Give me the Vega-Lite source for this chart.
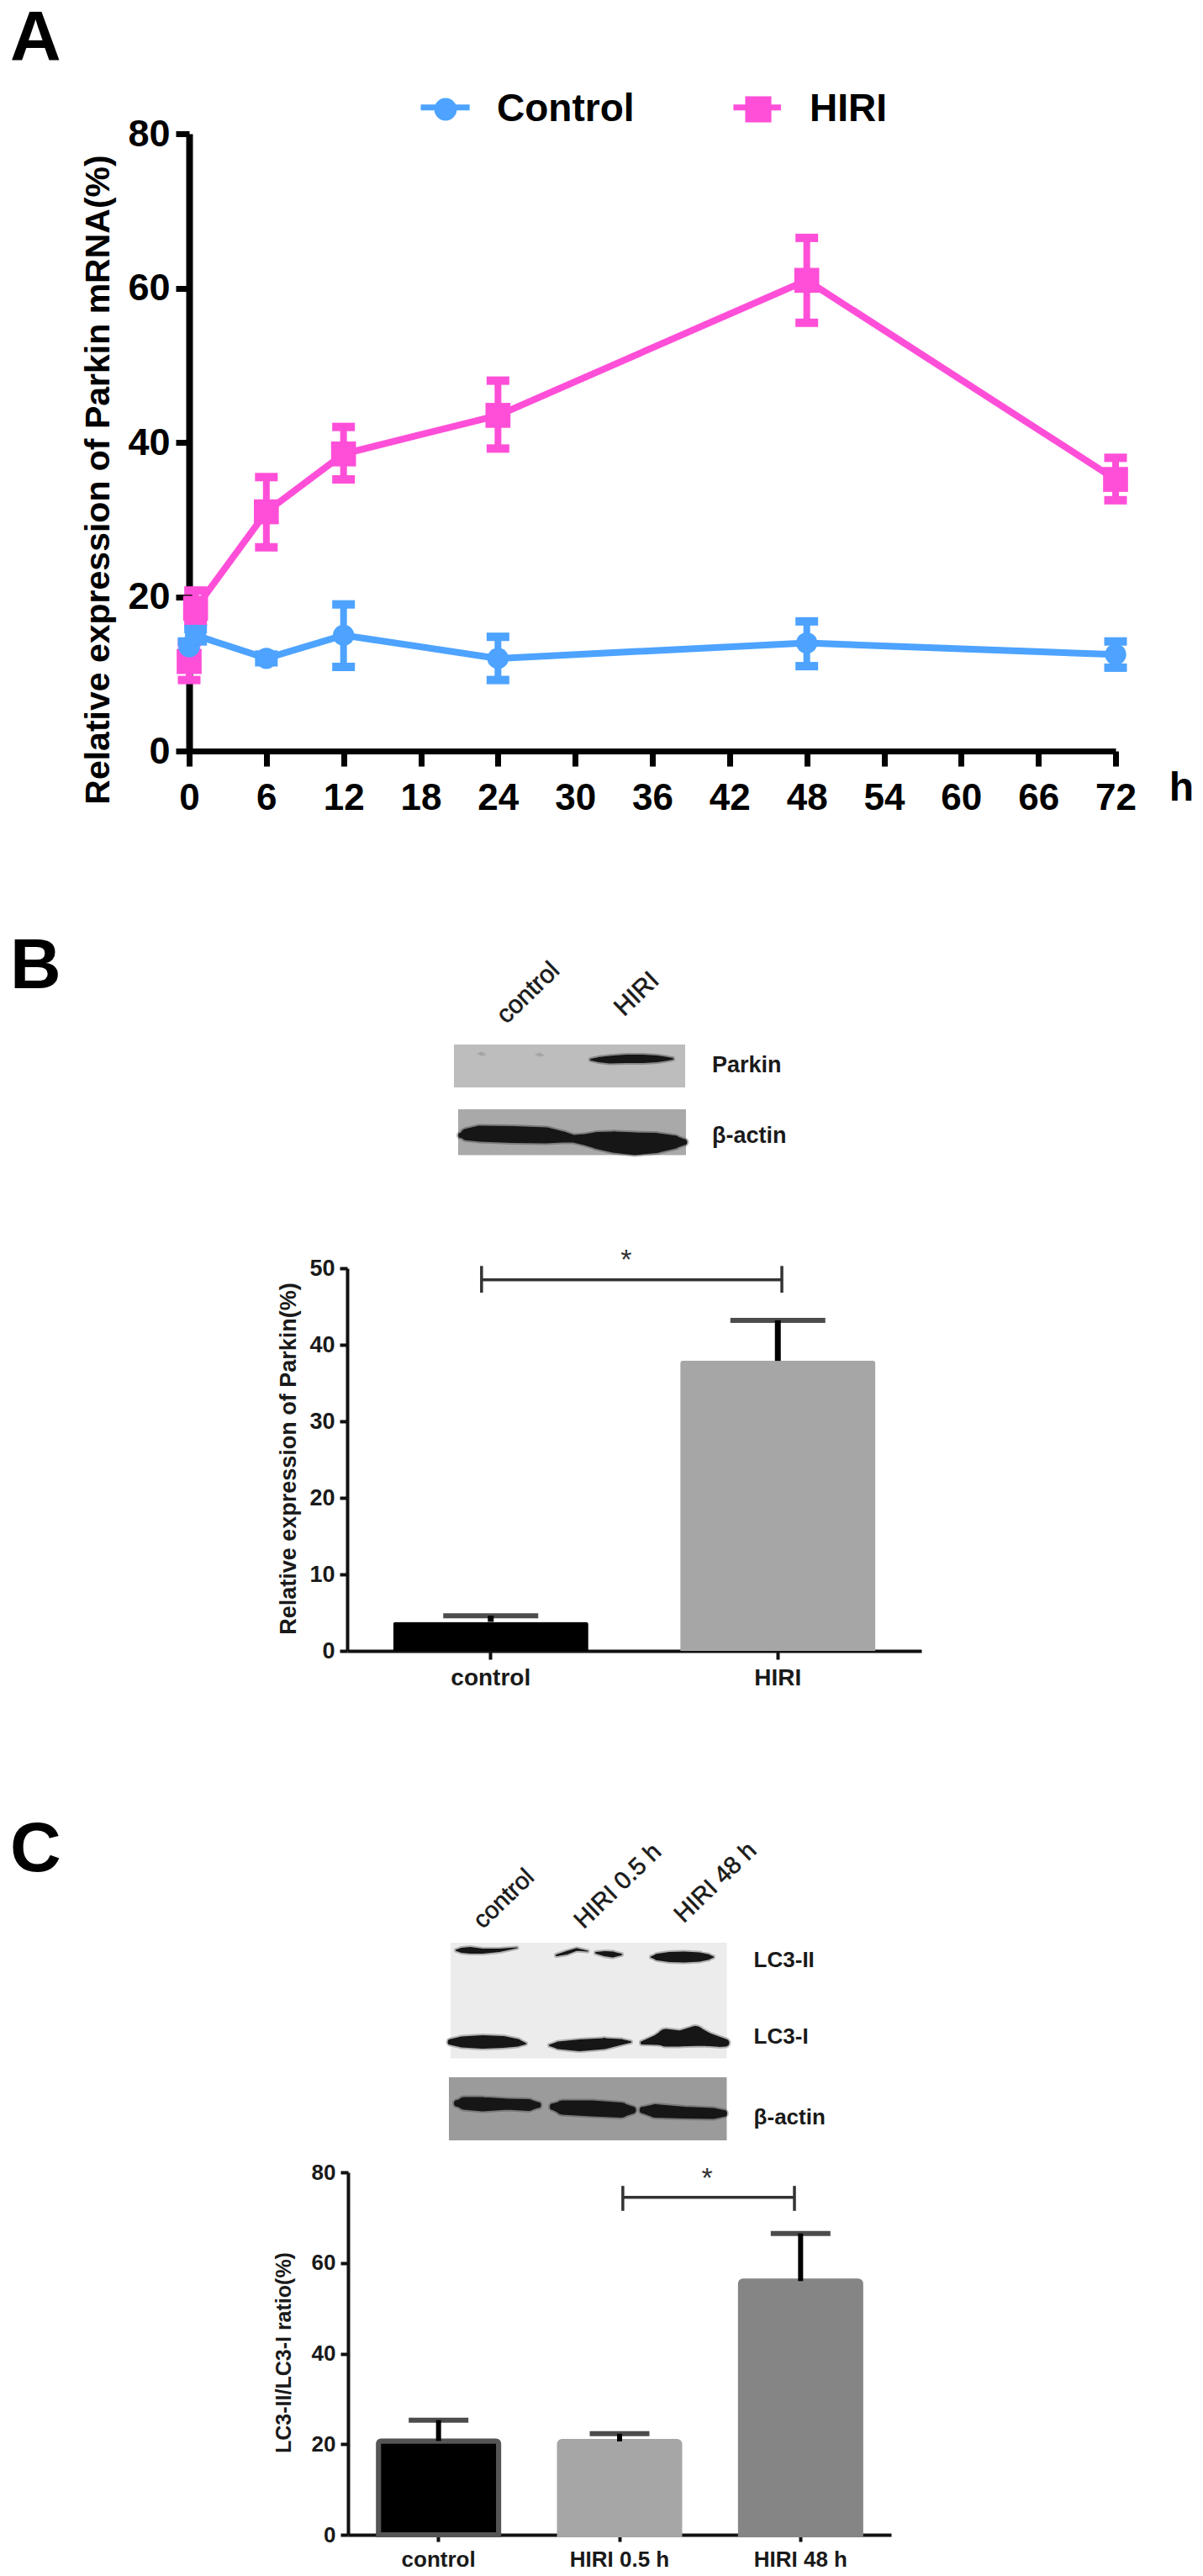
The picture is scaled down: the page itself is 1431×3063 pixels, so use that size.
{"$schema":"https://vega.github.io/schema/vega-lite/v6.json","background":"white","padding":{"left":0,"top":0,"right":0,"bottom":49},"bounds":"flush","spacing":0,"resolve":{"scale":{"color":"independent","size":"independent","shape":"independent","stroke":"independent"},"legend":{"color":"independent"}},"config":{"view":{"stroke":null},"font":"Liberation Sans"},
"datasets":{
"mrna":[
{"series":"HIRI","hour":0,"mean":11.6,"lo":9.2,"hi":14},{"series":"HIRI","hour":0.5,"mean":18.5,"lo":16.6,"hi":20.8},{"series":"HIRI","hour":6,"mean":31,"lo":26.4,"hi":35.5},{"series":"HIRI","hour":12,"mean":38.5,"lo":35.2,"hi":42},{"series":"HIRI","hour":24,"mean":43.5,"lo":39.2,"hi":48},{"series":"HIRI","hour":48,"mean":61,"lo":55.5,"hi":66.5},{"series":"HIRI","hour":72,"mean":35.2,"lo":32.5,"hi":38},
{"series":"Control","hour":0,"mean":13.5,"lo":12.8,"hi":14.2},{"series":"Control","hour":0.5,"mean":15,"lo":14.2,"hi":15.8},{"series":"Control","hour":6,"mean":12,"lo":11.5,"hi":12.5},{"series":"Control","hour":12,"mean":15,"lo":10.9,"hi":19},{"series":"Control","hour":24,"mean":12,"lo":9.2,"hi":14.8},{"series":"Control","hour":48,"mean":14,"lo":11,"hi":16.8},{"series":"Control","hour":72,"mean":12.5,"lo":10.8,"hi":14.2}],
"legendKeys":[{"series":"Control","x":18,"x2":21.8,"y":83.4},{"series":"HIRI","x":42.3,"x2":46,"y":83.4}],
"barsB":[{"group":"control","mean":3.8,"hi":4.6},{"group":"HIRI","mean":37.9,"hi":43.2}],
"barsC":[{"group":"control","mean":20.7,"hi":25.3},{"group":"HIRI 0.5 h","mean":20.6,"hi":22.3},{"group":"HIRI 48 h","mean":56,"hi":66.5}],
"panelsB":[{"kind":"upper","x":0,"x2":275,"y":0,"y2":51},{"kind":"lower","x":5,"x2":276,"y":77,"y2":131.5}],
"bandsB":[
{"band":"p","kind":"strong","x":163,"y":18,"t":2},{"band":"p","kind":"strong","x":172,"y":18,"t":6},{"band":"p","kind":"strong","x":185,"y":18,"t":9},{"band":"p","kind":"strong","x":205,"y":17,"t":10},{"band":"p","kind":"strong","x":225,"y":17,"t":10},{"band":"p","kind":"strong","x":242,"y":17,"t":8},{"band":"p","kind":"strong","x":252,"y":17,"t":5},{"band":"p","kind":"strong","x":260,"y":17,"t":2},
{"band":"f1","kind":"faint","x":28,"y":11,"t":1},{"band":"f1","kind":"faint","x":33,"y":11,"t":5},{"band":"f1","kind":"faint","x":38,"y":12,"t":1},
{"band":"f2","kind":"faint","x":97,"y":12,"t":1},{"band":"f2","kind":"faint","x":102,"y":12,"t":5},{"band":"f2","kind":"faint","x":107,"y":13,"t":1},
{"band":"a","kind":"strong","x":8,"y":108,"t":6},{"band":"a","kind":"strong","x":15,"y":107,"t":14},{"band":"a","kind":"strong","x":30,"y":106,"t":19},{"band":"a","kind":"strong","x":70,"y":107,"t":20},{"band":"a","kind":"strong","x":110,"y":108,"t":19},{"band":"a","kind":"strong","x":130,"y":110,"t":13},{"band":"a","kind":"strong","x":142,"y":112,"t":9},{"band":"a","kind":"strong","x":155,"y":113,"t":13},{"band":"a","kind":"strong","x":170,"y":114,"t":20},{"band":"a","kind":"strong","x":190,"y":116,"t":25},{"band":"a","kind":"strong","x":215,"y":118,"t":27},{"band":"a","kind":"strong","x":240,"y":117,"t":24},{"band":"a","kind":"strong","x":262,"y":116,"t":16},{"band":"a","kind":"strong","x":274,"y":116,"t":7}],
"sideB":[{"label":"Parkin","x":307,"y":24.5},{"label":"β-actin","x":307,"y":109}],
"laneB":[{"label":"control","x":56,"y":-30},{"label":"HIRI","x":196,"y":-39}],
"panelsC":[{"kind":"upper","x":2,"x2":330.5,"y":0,"y2":137.6},{"kind":"lower","x":0,"x2":330.5,"y":160,"y2":235}],
"bandsC":[
{"band":"c2","x":9,"y":9,"t":2},{"band":"c2","x":15,"y":9,"t":6},{"band":"c2","x":25,"y":9,"t":8},{"band":"c2","x":40,"y":10,"t":6},{"band":"c2","x":60,"y":9,"t":4},{"band":"c2","x":81,"y":6,"t":1},
{"band":"h2","x":128,"y":15,"t":2},{"band":"h2","x":140,"y":12,"t":4},{"band":"h2","x":152,"y":8,"t":3},{"band":"h2","x":165,"y":10,"t":1},
{"band":"h2b","x":175,"y":12,"t":2},{"band":"h2b","x":185,"y":13,"t":6},{"band":"h2b","x":195,"y":14,"t":7},{"band":"h2b","x":205,"y":14,"t":2},
{"band":"l2","x":241,"y":17,"t":2},{"band":"l2","x":248,"y":17,"t":8},{"band":"l2","x":262,"y":17,"t":12},{"band":"l2","x":280,"y":17,"t":13},{"band":"l2","x":298,"y":17,"t":11},{"band":"l2","x":308,"y":17,"t":7},{"band":"l2","x":314,"y":17,"t":2},
{"band":"c1","x":2,"y":118,"t":7},{"band":"c1","x":15,"y":118,"t":13},{"band":"c1","x":40,"y":118,"t":16},{"band":"c1","x":65,"y":118,"t":14},{"band":"c1","x":82,"y":119,"t":9},{"band":"c1","x":91,"y":120,"t":2},
{"band":"h1","x":120,"y":122,"t":2},{"band":"h1","x":130,"y":122,"t":9},{"band":"h1","x":155,"y":122,"t":14},{"band":"h1","x":185,"y":120,"t":13},{"band":"h1","x":205,"y":118,"t":7},{"band":"h1","x":216,"y":118,"t":2},
{"band":"l1","x":230,"y":119,"t":4},{"band":"l1","x":245,"y":116,"t":11},{"band":"l1","x":258,"y":113,"t":21},{"band":"l1","x":275,"y":114,"t":19},{"band":"l1","x":293,"y":111,"t":24},{"band":"l1","x":308,"y":115,"t":16},{"band":"l1","x":322,"y":118,"t":12},{"band":"l1","x":329,"y":119,"t":9},
{"band":"ca","x":10,"y":191,"t":8},{"band":"ca","x":18,"y":191,"t":15},{"band":"ca","x":40,"y":192,"t":17},{"band":"ca","x":70,"y":192,"t":13},{"band":"ca","x":95,"y":193,"t":14},{"band":"ca","x":106,"y":193,"t":7},
{"band":"ha","x":124,"y":195,"t":8},{"band":"ha","x":135,"y":196,"t":17},{"band":"ha","x":170,"y":197,"t":19},{"band":"ha","x":205,"y":199,"t":18},{"band":"ha","x":218,"y":199,"t":9},
{"band":"la","x":231,"y":199,"t":8},{"band":"la","x":245,"y":200,"t":16},{"band":"la","x":280,"y":202,"t":14},{"band":"la","x":315,"y":203,"t":13},{"band":"la","x":327,"y":203,"t":8}],
"sideC":[{"label":"LC3-II","x":362.6,"y":21},{"label":"LC3-I","x":362.6,"y":112},{"label":"β-actin","x":362.6,"y":208}],
"laneC":[{"label":"control","x":34,"y":-22},{"label":"HIRI 0.5 h","x":154,"y":-22},{"label":"HIRI 48 h","x":273,"y":-29}],
"sigB":[{"x":0.234,"lo":46.8,"hi":50.3},{"x":0.757,"lo":46.8,"hi":50.3}],
"sigC":[{"x":0.506,"lo":71.5,"hi":77},{"x":0.822,"lo":71.5,"hi":77}]
},
"vconcat":[
 {"width":1431,"height":893,"title":{"text":"A","anchor":"start","frame":"group","fontSize":84,"fontWeight":"bold","offset":0,"dx":12,"dy":90,"color":"#000"},
  "data":{"name":"mrna"},
  "encoding":{"x":{"field":"hour","type":"quantitative","scale":{"domain":[0,72],"nice":false,"range":[225,1327]},"axis":{"values":[0,6,12,18,24,30,36,42,48,54,60,66,72],"grid":false,"title":"h","titleFontSize":48,"titleFontWeight":"bold","titleColor":"#000","titleX":1405,"titleY":44,"titleBaseline":"middle","labelFontSize":44,"labelFontWeight":"bold","labelColor":"#000","labelPadding":16,"domainColor":"#000","domainWidth":7,"tickColor":"#000","tickWidth":7,"tickSize":18,"labelFlush":false,"labelOverlap":false}}},
  "layer":[
   {"mark":{"type":"line","strokeWidth":8},"encoding":{"y":{"field":"mean","type":"quantitative","scale":{"domain":[0,80],"nice":false,"range":[893,159]},"axis":{"offset":-225,"values":[0,20,40,60,80],"grid":false,"title":"Relative expression of Parkin mRNA(%)","titleFontSize":41,"titleFontWeight":"bold","titleColor":"#000","titleX":-108,"titleY":570,"titleBaseline":"middle","labelFontSize":45,"labelFontWeight":"bold","labelColor":"#000","labelPadding":7,"domainColor":"#000","domainWidth":8,"tickColor":"#000","tickWidth":7,"tickSize":16}},"color":{"field":"series","type":"nominal","scale":{"domain":["Control","HIRI"],"range":["#4DA3FF","#FF4FD8"]}}}},
   {"mark":{"type":"errorbar","ticks":{"size":27,"thickness":10,"opacity":1},"rule":{"strokeWidth":8,"opacity":1}},"encoding":{"y":{"field":"lo","type":"quantitative","title":"Relative expression of Parkin mRNA(%)"},"y2":{"field":"hi"},"color":{"field":"series","type":"nominal"},"detail":{"field":"series"}}},
   {"data":{"name":"legendKeys"},"mark":{"type":"rule","strokeWidth":7},"encoding":{"x":{"field":"x","type":"quantitative","title":"h"},"x2":{"field":"x2"},"y":{"field":"y","type":"quantitative","title":"Relative expression of Parkin mRNA(%)"},"color":{"field":"series","type":"nominal"}}},
   {"mark":{"type":"point","filled":true,"opacity":1},"encoding":{"y":{"field":"mean","type":"quantitative"},"size":{"field":"series","type":"nominal","scale":{"domain":["Control","HIRI"],"range":[640,880]},"legend":null},"shape":{"field":"series","type":"nominal","scale":{"domain":["Control","HIRI"],"range":["circle","square"]},"legend":null},"color":{"field":"series","type":"nominal","legend":{"orient":"none","legendX":507,"legendY":107,"direction":"horizontal","columns":2,"title":null,"symbolSize":750,"symbolOpacity":1,"labelFontSize":46,"labelFont":"Liberation Sans","labelFontWeight":"bold","labelColor":"#000","labelOffset":38,"labelLimit":400,"columnPadding":124,"encoding":{"symbols":{"shape":{"value":{"signal":"datum.value=='Control'?'circle':'square'"}}}}}}}}
  ]},
 {"width":1431,"height":481,"title":{"text":"B","anchor":"start","frame":"group","fontSize":84,"fontWeight":"bold","offset":0,"dx":12,"dy":300,"color":"#000"},"layer":[
  {"data":{"name":"panelsB"},"mark":"rect","encoding":{"x":{"field":"x","type":"quantitative","scale":{"domain":[0,276],"nice":false,"range":[540,816]},"axis":null},"x2":{"field":"x2"},"y":{"field":"y","type":"quantitative","scale":{"domain":[132,0],"nice":false,"range":[481,349]},"axis":null},"y2":{"field":"y2"},"color":{"field":"kind","type":"nominal","scale":{"domain":["upper","lower"],"range":["#bdbdbd","#a9a9a9"]},"legend":null}}},
  {"data":{"name":"bandsB"},"transform":[{"filter":"datum.kind=='strong'"}],"mark":{"type":"trail","opacity":0.35,"color":"#2a2a2a"},"encoding":{"x":{"field":"x","type":"quantitative"},"y":{"field":"y","type":"quantitative"},"size":{"field":"t","type":"quantitative","scale":{"domain":[0,30],"range":[4,34]},"legend":null},"detail":{"field":"band"}}},
  {"data":{"name":"bandsB"},"transform":[{"filter":"datum.kind=='strong'"}],"mark":{"type":"trail","color":"#161616"},"encoding":{"x":{"field":"x","type":"quantitative"},"y":{"field":"y","type":"quantitative"},"size":{"field":"t","type":"quantitative","scale":null,"legend":null},"detail":{"field":"band"}}},
  {"data":{"name":"bandsB"},"transform":[{"filter":"datum.kind=='faint'"}],"mark":{"type":"trail","color":"#a5a5a5"},"encoding":{"x":{"field":"x","type":"quantitative"},"y":{"field":"y","type":"quantitative"},"size":{"field":"t","type":"quantitative","scale":null,"legend":null},"detail":{"field":"band"}}},
  {"data":{"name":"sideB"},"mark":{"type":"text","align":"left","baseline":"middle","fontSize":27,"fontWeight":"bold","color":"#1a1a1a"},"encoding":{"x":{"field":"x","type":"quantitative"},"y":{"field":"y","type":"quantitative"},"text":{"field":"label"}}},
  {"data":{"name":"laneB"},"mark":{"type":"text","align":"left","baseline":"middle","angle":316,"fontSize":30,"color":"#1a1a1a","stroke":"#1a1a1a","strokeWidth":0.6},"encoding":{"x":{"field":"x","type":"quantitative"},"y":{"field":"y","type":"quantitative"},"text":{"field":"label"}}}
 ],"resolve":{"scale":{"size":"independent","color":"independent"}}},
 {"width":1431,"height":589,
  "resolve":{"scale":{"x":"independent"}},
  "layer":[
  {"data":{"name":"barsB"},"encoding":{"x":{"field":"group","type":"nominal","sort":null,"scale":{"domain":["control","HIRI"],"paddingInner":0.32,"paddingOuter":0.16,"range":[413,1096]},"axis":{"title":null,"labelAngle":0,"labelFontSize":28,"labelFontWeight":"bold","labelColor":"#1a1a1a","labelPadding":8,"domainColor":"#111","domainWidth":4,"tickColor":"#111","tickWidth":4,"tickSize":10}}},
   "layer":[
    {"mark":{"type":"bar","cornerRadiusEnd":3},"encoding":{"y":{"field":"mean","type":"quantitative","scale":{"domain":[0,50],"nice":false,"range":[589,134]},"axis":{"offset":-413,"values":[0,10,20,30,40,50],"grid":false,"title":"Relative expression of Parkin(%)","titleFontSize":27,"titleFontWeight":"bold","titleColor":"#1a1a1a","titleX":-70,"titleY":360,"titleBaseline":"middle","labelFontSize":27,"labelFontWeight":"bold","labelColor":"#1a1a1a","labelPadding":6,"domainColor":"#111","domainWidth":4,"tickColor":"#111","tickWidth":4,"tickSize":9}},"color":{"field":"group","type":"nominal","scale":{"domain":["control","HIRI"],"range":["#000000","#a6a6a6"]},"legend":null}}},
    {"mark":{"type":"rule","strokeWidth":7,"color":"#000"},"encoding":{"y":{"field":"mean","type":"quantitative"},"y2":{"field":"hi"}}},
    {"mark":{"type":"tick","size":113,"thickness":6,"color":"#000"},"encoding":{"y":{"field":"hi","type":"quantitative"}}}
   ]},
  {"data":{"name":"sigB"},"encoding":{"x":{"field":"x","type":"quantitative","scale":{"domain":[0,1],"nice":false,"range":[413,1096]},"axis":null}},
   "layer":[
    {"mark":{"type":"rule","strokeWidth":3.5,"color":"#333"},"encoding":{"y":{"field":"lo","type":"quantitative"},"y2":{"field":"hi"}}},
    {"mark":{"type":"line","strokeWidth":3.5,"color":"#333"},"encoding":{"y":{"datum":48.5,"type":"quantitative"}}},
    {"data":{"values":[{"x":0.486,"y":51,"label":"*"}]},"mark":{"type":"text","fontSize":34,"baseline":"middle","color":"#333"},"encoding":{"y":{"field":"y","type":"quantitative"},"text":{"field":"label"}}}
   ]}
 ]},
 {"width":1431,"height":582,"title":{"text":"C","anchor":"start","frame":"group","fontSize":84,"fontWeight":"bold","offset":0,"dx":12,"dy":280,"color":"#000"},"layer":[
  {"data":{"name":"panelsC"},"mark":"rect","encoding":{"x":{"field":"x","type":"quantitative","scale":{"domain":[0,331],"nice":false,"range":[534,865]},"axis":null},"x2":{"field":"x2"},"y":{"field":"y","type":"quantitative","scale":{"domain":[235,0],"nice":false,"range":[582,347]},"axis":null},"y2":{"field":"y2"},"color":{"field":"kind","type":"nominal","scale":{"domain":["upper","lower"],"range":["#ececec","#9b9b9b"]},"legend":null}}},
  {"data":{"name":"bandsC"},"mark":{"type":"trail","opacity":0.3,"color":"#2a2a2a"},"encoding":{"x":{"field":"x","type":"quantitative"},"y":{"field":"y","type":"quantitative"},"size":{"field":"t","type":"quantitative","scale":{"domain":[0,30],"range":[4,34]},"legend":null},"detail":{"field":"band"}}},
  {"data":{"name":"bandsC"},"mark":{"type":"trail","color":"#161616"},"encoding":{"x":{"field":"x","type":"quantitative"},"y":{"field":"y","type":"quantitative"},"size":{"field":"t","type":"quantitative","scale":null,"legend":null},"detail":{"field":"band"}}},
  {"data":{"name":"sideC"},"mark":{"type":"text","align":"left","baseline":"middle","fontSize":26,"fontWeight":"bold","color":"#1a1a1a"},"encoding":{"x":{"field":"x","type":"quantitative"},"y":{"field":"y","type":"quantitative"},"text":{"field":"label"}}},
  {"data":{"name":"laneC"},"mark":{"type":"text","align":"left","baseline":"middle","angle":316,"fontSize":29,"color":"#1a1a1a","stroke":"#1a1a1a","strokeWidth":0.6},"encoding":{"x":{"field":"x","type":"quantitative"},"y":{"field":"y","type":"quantitative"},"text":{"field":"label"}}}
 ],"resolve":{"scale":{"size":"independent","color":"independent"}}},
 {"width":1431,"height":469,
  "resolve":{"scale":{"x":"independent"}},
  "layer":[
  {"data":{"name":"barsC"},"encoding":{"x":{"field":"group","type":"nominal","sort":null,"scale":{"domain":["control","HIRI 0.5 h","HIRI 48 h"],"paddingInner":0.336,"paddingOuter":0.168,"range":[414,1060]},"axis":{"title":null,"labelAngle":0,"labelFontSize":26,"labelFontWeight":"bold","labelColor":"#1a1a1a","labelPadding":8,"domainColor":"#111","domainWidth":4,"tickColor":"#111","tickWidth":4,"tickSize":8}}},
   "layer":[
    {"mark":{"type":"bar","cornerRadiusEnd":3},"encoding":{"y":{"field":"mean","type":"quantitative","scale":{"domain":[0,80],"nice":false,"range":[469,38]},"axis":{"offset":-414,"values":[0,20,40,60,80],"grid":false,"title":"LC3-II/LC3-I ratio(%)","titleFontSize":25,"titleFontWeight":"bold","titleColor":"#1a1a1a","titleX":-77,"titleY":252,"titleBaseline":"middle","labelFontSize":26,"labelFontWeight":"bold","labelColor":"#1a1a1a","labelPadding":6,"domainColor":"#111","domainWidth":4,"tickColor":"#111","tickWidth":4,"tickSize":9}},"color":{"field":"group","type":"nominal","scale":{"domain":["control","HIRI 0.5 h","HIRI 48 h"],"range":["#000000","#a6a6a6","#858585"]},"legend":null},"stroke":{"field":"group","type":"nominal","scale":{"domain":["control","HIRI 0.5 h","HIRI 48 h"],"range":["#555555","#a6a6a6","#858585"]},"legend":null},"strokeWidth":{"value":6}}},
    {"mark":{"type":"rule","strokeWidth":6,"color":"#000"},"encoding":{"y":{"field":"mean","type":"quantitative"},"y2":{"field":"hi"}}},
    {"mark":{"type":"tick","size":71,"thickness":6,"color":"#000"},"encoding":{"y":{"field":"hi","type":"quantitative"}}}
   ]},
  {"data":{"name":"sigC"},"encoding":{"x":{"field":"x","type":"quantitative","scale":{"domain":[0,1],"nice":false,"range":[414,1060]},"axis":null}},
   "layer":[
    {"mark":{"type":"rule","strokeWidth":3.5,"color":"#333"},"encoding":{"y":{"field":"lo","type":"quantitative"},"y2":{"field":"hi"}}},
    {"mark":{"type":"line","strokeWidth":3.5,"color":"#333"},"encoding":{"y":{"datum":74.5,"type":"quantitative"}}},
    {"data":{"values":[{"x":0.661,"y":78.5,"label":"*"}]},"mark":{"type":"text","fontSize":34,"baseline":"middle","color":"#333"},"encoding":{"y":{"field":"y","type":"quantitative"},"text":{"field":"label"}}}
   ]}
 ]}
]}
